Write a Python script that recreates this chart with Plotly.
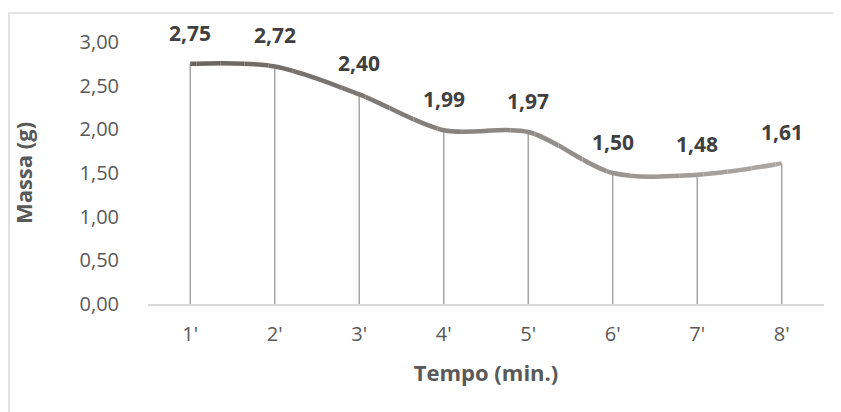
import plotly.graph_objects as go

categories = ["1'", "2'", "3'", "4'", "5'", "6'", "7'", "8'"]
massa = [2.75, 2.72, 2.40, 1.99, 1.97, 1.50, 1.48, 1.61]
y_ticks = [0, 0.5, 1.0, 1.5, 2.0, 2.5, 3.0]
y_tick_labels = ["0,00", "0,50", "1,00", "1,50", "2,00", "2,50", "3,00"]

FONT = "Open Sans"
xpos = list(range(len(categories)))

fig = go.Figure()

# drop lines
dx, dy = [], []
for p, v in zip(xpos, massa):
    dx += [p, p, None]
    dy += [0, v, None]
fig.add_trace(go.Scatter(x=dx, y=dy, mode="lines",
                         line=dict(color="#a6a6a6", width=1.5),
                         hoverinfo="skip", showlegend=False))

# gradient line: the same spline drawn in narrow clipped strips with shifting colour
N = 28
c0 = (0x68, 0x65, 0x62)
c1 = (0xaa, 0xa7, 0xa5)
lo, hi = -0.5, len(categories) - 0.5
layout_axes = {}
for k in range(N):
    t = (k + 0.5) / N
    tt = min(max((t * (hi - lo) + lo) / (len(categories) - 1), 0), 1)
    col = "rgb({},{},{})".format(*[round(a + (b - a) * tt) for a, b in zip(c0, c1)])
    name = f"x{k + 2}"
    fig.add_trace(go.Scatter(x=xpos, y=massa, mode="lines", xaxis=name, yaxis="y",
                             line=dict(color=col, width=4.5, shape="spline", smoothing=0.9),
                             showlegend=False, hoverinfo="skip"))
    layout_axes[f"xaxis{k + 2}"] = dict(
        domain=[k / N, (k + 1) / N],
        range=[lo + (hi - lo) * k / N, lo + (hi - lo) * (k + 1) / N],
        visible=False, anchor="y", fixedrange=True)

for p, v in zip(xpos, massa):
    fig.add_annotation(x=p, y=v, xref="x", yref="y",
                       text=f"<b>{v:.2f}</b>".replace(".", ","),
                       showarrow=False, yshift=31, yanchor="middle",
                       font=dict(family=FONT, size=21, color="#404040"))

# page body has an 8px margin; plot area should span x 148..824, y 42..304
fig.update_layout(
    width=833, height=404,
    margin=dict(l=140, r=17, t=34, b=108),
    paper_bgcolor="white", plot_bgcolor="rgba(0,0,0,0)",
    font=dict(family=FONT, color="#595959"),
    xaxis=dict(
        range=[lo, hi], domain=[0, 1],
        tickvals=xpos, ticktext=categories,
        showgrid=False, zeroline=False,
        showline=True, linecolor="#d9d9d9", linewidth=1.5,
        ticks="", ticklabelstandoff=11,
        tickfont=dict(family=FONT, size=20, color="#595959"),
        title=dict(text="<b>Tempo (min.)</b>", standoff=20,
                   font=dict(family=FONT, size=22, color="#595959")),
    ),
    yaxis=dict(
        range=[0, 3.0], showgrid=False, zeroline=False, showline=False,
        tickvals=y_ticks, ticktext=y_tick_labels,
        ticks="", ticklabelstandoff=28,
        tickfont=dict(family=FONT, size=20, color="#595959"),
        title=dict(text="<b>Massa (g)</b>", standoff=40,
                   font=dict(family=FONT, size=22, color="#595959")),
    ),
    shapes=[dict(type="rect", xref="paper", yref="paper",
                 x0=(9 - 148) / 676, x1=1.2, y0=-0.6, y1=(304 - 13) / 262,
                 line=dict(color="#d9d9d9", width=1.5), layer="below")],
    **layout_axes,
)

fig.write_html("out.html")
